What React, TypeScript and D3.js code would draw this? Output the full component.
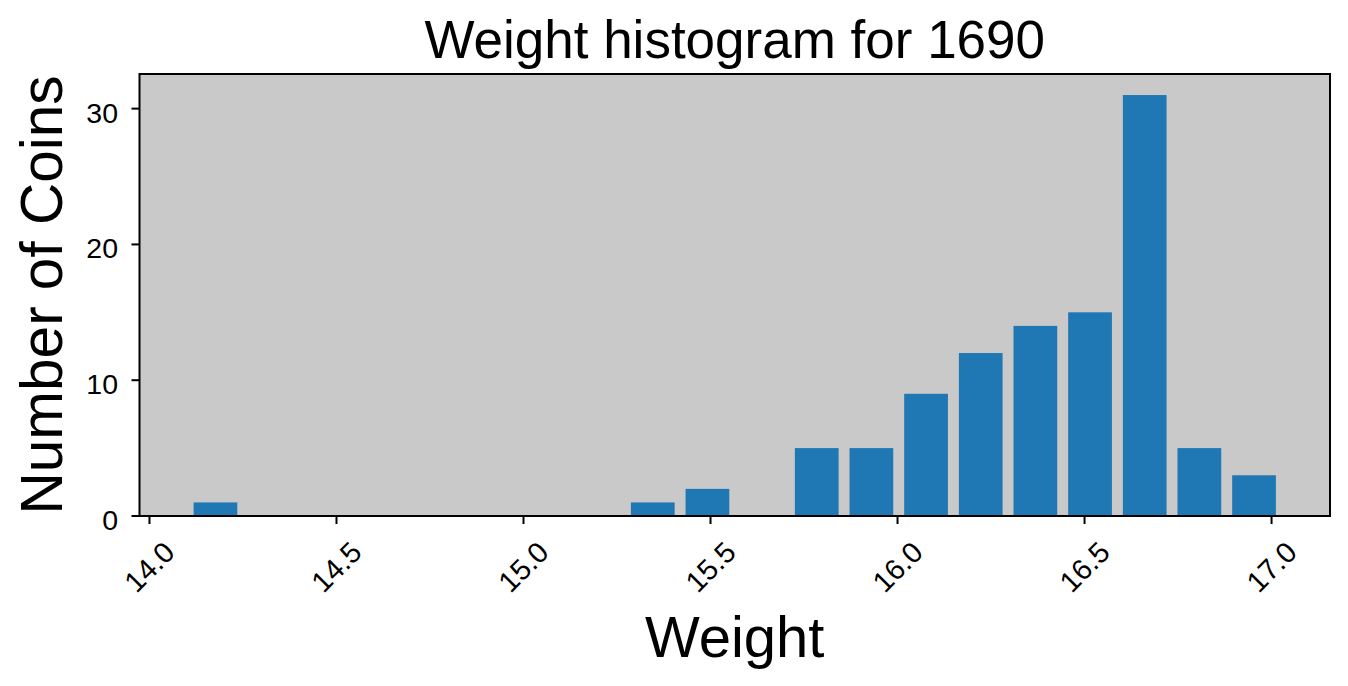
import React from "react";
import * as d3 from "d3";

const binEdges: number[] = [
  14.1034, 14.2495, 14.3957, 14.5418, 14.688, 14.8341, 14.9802, 15.1264,
  15.2725, 15.4187, 15.5648, 15.7109, 15.8571, 16.0032, 16.1494, 16.2955,
  16.4416, 16.5878, 16.7339, 16.8801, 17.0262,
];
const counts: number[] = [1, 0, 0, 0, 0, 0, 0, 0, 1, 2, 0, 5, 5, 9, 12, 14, 15, 31, 5, 3];
const xTicks: number[] = [14.0, 14.5, 15.0, 15.5, 16.0, 16.5, 17.0];
const yTicks: number[] = [0, 10, 20, 30];
const title = "Weight histogram for 1690";
const xLabel = "Weight";
const yLabel = "Number of Coins";

const W = 1348;
const H = 686;
const plot = { left: 139.5, right: 1330, top: 74, bottom: 516 };
const rwidth = 0.8;
const FONT = "'Liberation Sans', Arial, Helvetica, sans-serif";

export default function App() {
  const bars = counts.map((c, i) => {
    const x0 = binEdges[i];
    const x1 = binEdges[i + 1];
    const w = (x1 - x0) * rwidth;
    const mid = (x0 + x1) / 2;
    return { l: mid - w / 2, r: mid + w / 2, c };
  });
  const lo = d3.min(bars, (b) => b.l)!;
  const hi = d3.max(bars, (b) => b.r)!;
  const pad = (hi - lo) * 0.05;
  const x = d3.scaleLinear().domain([lo - pad, hi + pad]).range([plot.left, plot.right]);
  const yMax = d3.max(counts)! * 1.05;
  const y = d3.scaleLinear().domain([0, yMax]).range([plot.bottom, plot.top]);
  const cx = (plot.left + plot.right) / 2;
  const cy = (plot.top + plot.bottom) / 2;

  return (
    <svg
      width={W}
      height={H}
      style={{ position: "absolute", left: 0, top: 0, display: "block", background: "#fff" }}
      fontFamily={FONT}
    >
      <rect x={0} y={0} width={W} height={H} fill="#ffffff" />
      <rect
        x={plot.left}
        y={plot.top}
        width={plot.right - plot.left}
        height={plot.bottom - plot.top}
        fill="#c9c9c9"
      />
      {bars.map((b, i) =>
        b.c > 0 ? (
          <rect
            key={i}
            x={x(b.l)}
            y={y(b.c)}
            width={x(b.r) - x(b.l)}
            height={y(0) - y(b.c)}
            fill="#1f77b4"
          />
        ) : null
      )}
      <rect
        x={plot.left}
        y={plot.top}
        width={plot.right - plot.left}
        height={plot.bottom - plot.top}
        fill="none"
        stroke="#000"
        strokeWidth={2}
      />
      {xTicks.map((t) => (
        <g key={"x" + t}>
          <line x1={x(t)} x2={x(t)} y1={plot.bottom} y2={plot.bottom + 8} stroke="#000" strokeWidth={2} />
          <text
            transform={`translate(${x(t)},${plot.bottom + 51}) rotate(-45)`}
            textAnchor="middle"
            dominantBaseline="central"
            fontSize={29}
            fill="#000"
          >
            {t.toFixed(1)}
          </text>
        </g>
      ))}
      {yTicks.map((t) => (
        <g key={"y" + t}>
          <line x1={plot.left - 8} x2={plot.left} y1={y(t)} y2={y(t)} stroke="#000" strokeWidth={2} />
          <text x={118} y={y(t) + 14} textAnchor="end" fontSize={28.5} fill="#000">
            {t}
          </text>
        </g>
      ))}
      <text x={cx} y={58} textAnchor="middle" fontSize={53} fill="#000">
        {title}
      </text>
      <text x={cx} y={657} textAnchor="middle" fontSize={58} fill="#000">
        {xLabel}
      </text>
      <text
        transform={`translate(62,${cy}) rotate(-90)`}
        textAnchor="middle"
        fontSize={58.5}
        fill="#000"
      >
        {yLabel}
      </text>
    </svg>
  );
}
